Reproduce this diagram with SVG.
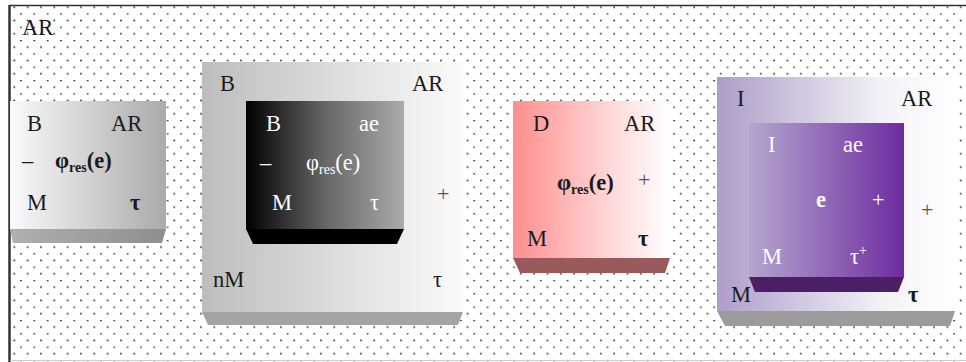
<svg xmlns="http://www.w3.org/2000/svg" width="966" height="362" viewBox="0 0 966 362">
<defs>
<pattern id="dots" patternUnits="userSpaceOnUse" x="0" y="0" width="13.33" height="13.33">
<circle cx="7.67" cy="0.5" r="1" fill="#3a3a3a"/>
<circle cx="1" cy="7.17" r="1" fill="#3a3a3a"/>
</pattern>
<linearGradient id="g1" x1="0" y1="0" x2="1" y2="0"><stop offset="0" stop-color="#fafafa"/><stop offset="1" stop-color="#aaaaaa"/></linearGradient>
<linearGradient id="g1b" x1="0" y1="0" x2="1" y2="0"><stop offset="0" stop-color="#b0b0b0"/><stop offset="1" stop-color="#8e8e8e"/></linearGradient>
<linearGradient id="g2" x1="0" y1="0" x2="1" y2="0"><stop offset="0" stop-color="#bdbdbd"/><stop offset="1" stop-color="#fbfbfb"/></linearGradient>
<linearGradient id="g2i" x1="0" y1="0" x2="1" y2="0"><stop offset="0" stop-color="#000"/><stop offset="0.5" stop-color="#666"/><stop offset="1" stop-color="#ababab"/></linearGradient>
<linearGradient id="g3" x1="0" y1="0" x2="1" y2="0"><stop offset="0" stop-color="#ff8e8e"/><stop offset="0.6" stop-color="#ffd6d6"/><stop offset="1" stop-color="#ffffff"/></linearGradient>
<linearGradient id="g4" x1="0" y1="0" x2="1" y2="0"><stop offset="0" stop-color="#ad9dc9"/><stop offset="0.7" stop-color="#f4f2f8"/><stop offset="1" stop-color="#ffffff"/></linearGradient>
<linearGradient id="g4i" x1="0" y1="0" x2="1" y2="0"><stop offset="0" stop-color="#b5a6cf"/><stop offset="1" stop-color="#6e2c9f"/></linearGradient>
</defs>
<style>
text{font-family:"Liberation Serif","Times New Roman",serif;font-size:22.5px;fill:#1a1a1a}
.w{fill:#ffffff}
.b{font-weight:bold}
.p{fill:#555;font-size:22px}
.pw{fill:#fff;font-size:22px}
.sub{font-size:14px}
</style>
<rect x="10" y="6" width="956" height="356" fill="#fff"/>
<rect x="10" y="6" width="956" height="356" fill="url(#dots)"/>
<line x1="9" y1="5.5" x2="966" y2="5.5" stroke="#333" stroke-width="1.5"/>
<line x1="9.5" y1="5" x2="9.5" y2="362" stroke="#333" stroke-width="2.5"/>
<line x1="10" y1="360.5" x2="966" y2="360.5" stroke="#ccc" stroke-width="1"/>
<text x="22" y="35">AR</text>

<g id="box1">
<polygon points="10,229 166,229 162,243 13,243" fill="url(#g1b)"/>
<rect x="10" y="101" width="156" height="128" fill="url(#g1)"/>
<text x="27" y="131">B</text>
<text x="111" y="131">AR</text>
<text x="22" y="168">–</text>
<text x="55" y="168" class="b">φ<tspan class="sub" dy="4">res</tspan><tspan dy="-4">(e)</tspan></text>
<text x="27" y="210">M</text>
<text x="130" y="210" class="b">τ</text>
</g>

<g id="box2">
<polygon points="202,312 463,312 458,325 208,325" fill="#a4a4a4"/>
<rect x="202" y="62" width="261" height="250" fill="url(#g2)"/>
<text x="220" y="91">B</text>
<text x="412" y="91">AR</text>
<text x="437" y="201" class="p">+</text>
<text x="213" y="287">nM</text>
<text x="433" y="287">τ</text>
</g>

<g id="box2-inner">
<polygon points="246,229 404,229 397,244 253,244" fill="#000"/>
<rect x="246" y="101" width="158" height="128" fill="url(#g2i)"/>
<text x="266" y="131" class="w">B</text>
<text x="359" y="131" class="w">ae</text>
<text x="260" y="170" class="w">–</text>
<text x="306" y="170" class="w">φ<tspan class="sub" dy="4">res</tspan><tspan dy="-4">(e)</tspan></text>
<text x="272" y="210" class="w">M</text>
<text x="370" y="210" class="w">τ</text>
</g>

<g id="box3">
<polygon points="513,258 670,258 665,273 520,273" fill="#985a5a"/>
<rect x="513" y="101" width="157" height="157" fill="url(#g3)"/>
<text x="533" y="131">D</text>
<text x="624" y="131">AR</text>
<text x="557" y="190" class="b">φ<tspan class="sub" dy="4">res</tspan><tspan dy="-4">(e)</tspan></text>
<text x="638" y="187" class="p">+</text>
<text x="527" y="246">M</text>
<text x="638" y="246" class="b">τ</text>
</g>

<g id="box4">
<polygon points="717,311 955,311 950,326 725,326" fill="#9b9b9b"/>
<rect x="717" y="77" width="238" height="234" fill="url(#g4)"/>
<text x="737" y="106">I</text>
<text x="901" y="106">AR</text>
<text x="921" y="217" class="p">+</text>
<text x="731" y="302">M</text>
<text x="908" y="302" class="b">τ</text>
</g>

<g id="box4-inner">
<polygon points="749,277 904,277 898,292 755,292" fill="#4a1f66"/>
<rect x="749" y="123" width="155" height="154" fill="url(#g4i)"/>
<text x="768" y="152" class="w">I</text>
<text x="843" y="152" class="w">ae</text>
<text x="816" y="207" class="w b">e</text>
<text x="872" y="207" class="pw">+</text>
<text x="762" y="264" class="w">M</text>
<text x="850" y="264" class="w">τ<tspan font-size="14" dy="-9">+</tspan></text>
</g>
</svg>
